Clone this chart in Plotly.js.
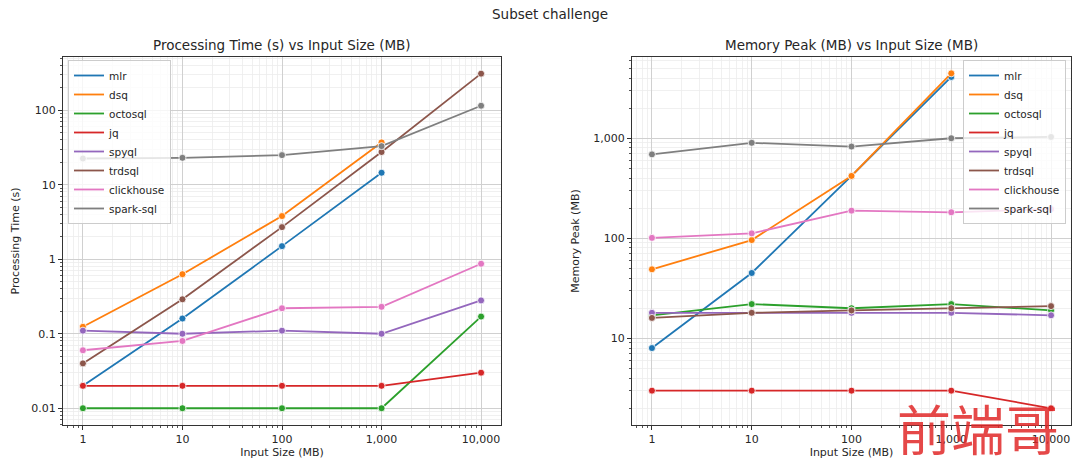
<!DOCTYPE html>
<html>
<head>
<meta charset="utf-8">
<script src="https://cdn.plot.ly/plotly-3.0.1.min.js"></script>
<style>html,body{margin:0;padding:0;background:#fff;}#chart{width:1080px;height:466px;}</style>
</head>
<body>
<div id="chart"></div>
<script>
const inputSizes = [1, 10, 100, 1000, 10000];
const tools = ["mlr", "dsq", "octosql", "jq", "spyql", "trdsql", "clickhouse", "spark-sql"];
const colors = ["#1f77b4", "#ff7f0e", "#2ca02c", "#d62728", "#9467bd", "#8c564b", "#e377c2", "#7f7f7f"];

// Processing time (s)
const timeMlr = [0.02, 0.16, 1.5, 14.5, null];
const timeDsq = [0.124, 0.63, 3.8, 37, null];
const timeOctosql = [0.01, 0.01, 0.01, 0.01, 0.17];
const timeJq = [0.02, 0.02, 0.02, 0.02, 0.03];
const timeSpyql = [0.11, 0.1, 0.11, 0.1, 0.28];
const timeTrdsql = [0.04, 0.29, 2.7, 27.5, 310];
const timeClickhouse = [0.06, 0.08, 0.22, 0.23, 0.87];
const timeSpark = [22.5, 23, 25, 33, 115];

// Memory peak (MB)
const memMlr = [8, 45, 420, 4100, null];
const memDsq = [49, 96, 420, 4450, null];
const memOctosql = [17, 22, 20, 22, 19];
const memJq = [3, 3, 3, 3, 2];
const memSpyql = [18, 18, 18, 18, 17];
const memTrdsql = [16, 18, 19, 20, 21];
const memClickhouse = [101, 112, 189, 182, 196];
const memSpark = [690, 900, 826, 1000, 1030];

const timeSeries = [timeMlr, timeDsq, timeOctosql, timeJq, timeSpyql, timeTrdsql, timeClickhouse, timeSpark];
const memSeries = [memMlr, memDsq, memOctosql, memJq, memSpyql, memTrdsql, memClickhouse, memSpark];

const FONT = "DejaVu Sans, sans-serif";
const TXT = "#262626";
const traces = [];

function addSeries(series, xa, ya, legendName) {
  series.forEach((vals, i) => {
    traces.push({
      type: "scatter", mode: "lines+markers", x: inputSizes, y: vals,
      xaxis: xa, yaxis: ya, name: tools[i], showlegend: false,
      line: {color: colors[i], width: 1.8},
      marker: {color: colors[i], size: 7, line: {color: "#fff", width: 0.8}},
      hoverinfo: "x+y+name"
    });
  });
  series.forEach((vals, i) => {
    traces.push({
      type: "scatter", mode: "lines", x: [null], y: [null],
      xaxis: xa, yaxis: ya, name: tools[i], legend: legendName,
      line: {color: colors[i], width: 1.8}
    });
  });
}
addSeries(timeSeries, "x", "y", "legend");
addSeries(memSeries, "x2", "y2", "legend2");

function axis(domain, range, anchor, titleText, standoff) {
  return {
    type: "log", domain: domain, range: range, anchor: anchor,
    dtick: 1, tickformat: ",",
    showline: true, mirror: true, linecolor: "#333", linewidth: 1,
    ticks: "outside", ticklen: 4, tickcolor: "#333", tickwidth: 1,
    showgrid: true, gridcolor: "#d0d0d0", gridwidth: 1,
    zeroline: false,
    minor: {dtick: "D1", ticks: "outside", ticklen: 2, tickcolor: "#555", showgrid: true, gridcolor: "#ececec", gridwidth: 0.8},
    tickfont: {family: FONT, size: 11, color: TXT},
    title: {text: titleText, font: {family: FONT, size: 11, color: TXT}, standoff: standoff},
    automargin: false
  };
}

const yDom = [1 - 425 / 466, 1 - 57 / 466];
const legendBase = {
  bgcolor: "rgba(255,255,255,0.8)", bordercolor: "#cccccc", borderwidth: 1,
  font: {family: FONT, size: 10.5, color: TXT}, tracegroupgap: 0
};
const layout = {
  width: 1080, height: 466,
  margin: {l: 0, r: 0, t: 0, b: 0},
  paper_bgcolor: "#fff", plot_bgcolor: "#fff",
  font: {family: FONT, color: TXT},
  xaxis: axis([63 / 1080, 501 / 1080], [-0.2, 4.2], "y", "Input Size (MB)", 2),
  yaxis: axis(yDom, [-2.225, 2.715], "x", "Processing Time (s)", 9),
  xaxis2: axis([632 / 1080, 1071 / 1080], [-0.2, 4.2], "y2", "Input Size (MB)", 2),
  yaxis2: axis(yDom, [0.134, 3.812], "x2", "Memory Peak (MB)", 11),
  legend: Object.assign({x: 68 / 1080, y: 1 - 60 / 466, xanchor: "left", yanchor: "top"}, legendBase),
  legend2: Object.assign({x: 1066 / 1080, y: 1 - 60 / 466, xanchor: "right", yanchor: "top"}, legendBase),
  annotations: [
    {text: "Subset challenge", xref: "paper", yref: "paper", x: 550 / 1080, y: 1 - 14 / 466, showarrow: false,
     font: {family: FONT, size: 13.5, color: TXT}, xanchor: "center", yanchor: "middle"},
    {text: "Processing Time (s) vs Input Size (MB)", xref: "paper", yref: "paper", x: 282 / 1080, y: 1 - 45 / 466, showarrow: false,
     font: {family: FONT, size: 13.5, color: TXT}, xanchor: "center", yanchor: "middle"},
    {text: "Memory Peak (MB) vs Input Size (MB)", xref: "paper", yref: "paper", x: 851 / 1080, y: 1 - 45 / 466, showarrow: false,
     font: {family: FONT, size: 13.5, color: TXT}, xanchor: "center", yanchor: "middle"},
    {text: "前端哥", xref: "paper", yref: "paper", x: 978 / 1080, y: 1 - 427 / 466, showarrow: false,
     font: {family: "Noto Sans CJK SC", size: 54, color: "rgba(225,40,40,0.85)"}, xanchor: "center", yanchor: "middle"}
  ]
};

Plotly.newPlot("chart", traces, layout, {displayModeBar: false, staticPlot: true});
</script>
</body>
</html>
